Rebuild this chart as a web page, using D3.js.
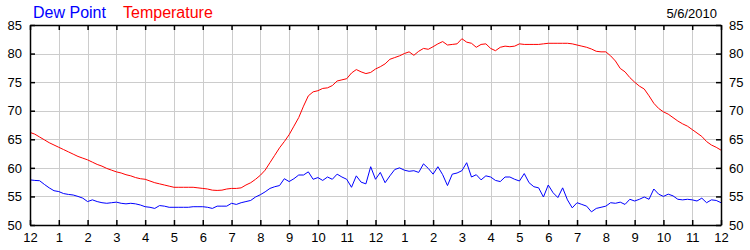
<!DOCTYPE html>
<html>
<head>
<meta charset="utf-8">
<script src="https://cdn.jsdelivr.net/npm/d3@7"></script>
<style>
  html, body { margin: 0; padding: 0; background: #fff; }
  svg { display: block; font-family: "Liberation Sans", Arial, sans-serif; }
</style>
</head>
<body>
<svg id="chart" width="750" height="250"></svg>
<script>
// ========= Data (10-minute readings, 12am to 12am) =========
const seriesNames = ["Dew Point", "Temperature"];
const seriesColors = ["#0000ff", "#ff0000"];
const dateLabel = "5/6/2010";

const hourLabels = ["12", "1", "2", "3", "4", "5", "6", "7", "8", "9", "10", "11",
                    "12", "1", "2", "3", "4", "5", "6", "7", "8", "9", "10", "11", "12"];
const yTicks = [50, 55, 60, 65, 70, 75, 80, 85];

const temperature = [
  66.2, 65.9, 65.4, 64.9, 64.4, 64.0, 63.6, 63.2, 62.8, 62.4, 62.0, 61.7,
  61.4, 61.0, 60.6, 60.3, 59.9, 59.6, 59.3, 59.1, 58.8, 58.6, 58.3, 58.1,
  58.0, 57.7, 57.4, 57.2, 57.0, 56.8, 56.6, 56.6, 56.6, 56.6, 56.6, 56.5,
  56.4, 56.3, 56.1, 56.05, 56.1, 56.3, 56.4, 56.4, 56.5, 57.0, 57.4, 58.0,
  58.7, 59.6, 60.9, 62.2, 63.5, 64.6, 65.8, 67.3, 68.8, 70.8, 72.6, 73.3,
  73.5, 73.9, 74.0, 74.4, 75.2, 75.4, 75.6, 76.6, 77.2, 76.8, 76.5, 76.7,
  77.3, 77.7, 78.2, 79.0, 79.3, 79.6, 80.0, 80.3, 79.7, 80.4, 80.9, 80.75,
  81.2, 81.7, 82.1, 81.5, 81.6, 81.7, 82.6, 82.0, 81.8, 81.1, 81.6, 81.7,
  80.9, 80.5, 81.1, 81.3, 81.2, 81.3, 81.7, 81.6, 81.6, 81.6, 81.6, 81.7,
  81.8, 81.8, 81.8, 81.8, 81.8, 81.7, 81.5, 81.3, 81.1, 80.8, 80.4, 80.3,
  80.3, 79.6, 78.7, 77.4, 76.8, 75.8, 75.0, 74.3, 73.8, 72.6, 71.3, 70.4,
  69.8, 69.4, 68.8, 68.2, 67.7, 67.3, 66.7, 66.1, 65.5, 64.6, 64.0, 63.6,
  63.1
];

const dewPoint = [
  57.9, 57.8, 57.75, 57.1, 56.5, 56.0, 55.85, 55.5, 55.35, 55.25, 55.0, 54.7,
  54.1, 54.4, 54.1, 53.9, 53.8, 53.9, 54.0, 53.8, 53.7, 53.8, 53.7, 53.5,
  53.2, 53.1, 52.9, 53.4, 53.3, 53.1, 53.1, 53.1, 53.1, 53.1, 53.2, 53.2,
  53.2, 53.1, 52.9, 53.3, 53.3, 53.3, 53.8, 53.6, 53.9, 54.1, 54.3, 54.9,
  55.3, 55.8, 56.4, 56.7, 56.9, 58.1, 57.6, 58.1, 58.75, 58.75, 59.3, 58.0,
  58.3, 57.8, 58.4, 58.0, 58.9, 58.4, 58.0, 56.6, 58.6, 57.5, 57.2, 60.2,
  58.0, 59.2, 57.4, 58.6, 59.7, 60.0, 59.6, 59.4, 59.5, 59.2, 60.7, 59.9,
  58.9, 60.2, 58.8, 56.9, 58.9, 59.1, 59.5, 60.9, 58.4, 58.8, 57.9, 58.6,
  58.4, 57.8, 57.6, 58.4, 58.4, 58.0, 57.7, 59.0, 57.4, 56.7, 56.5, 54.9,
  57.0, 55.65, 54.8, 56.5, 54.4, 53.0, 53.9, 53.6, 53.3, 52.3, 52.9, 53.1,
  53.3, 53.9, 53.8, 54.0, 53.6, 54.5, 54.2, 54.5, 54.9, 54.5, 56.3, 55.4,
  55.0, 55.4, 55.1, 54.5, 54.4, 54.5, 54.4, 54.2, 54.7, 53.9, 54.4, 54.3,
  53.9
];

// ========= Layout =========
const svg = d3.select("#chart");
const W = 750, H = 250;
const margin = { top: 25, right: 29, bottom: 25, left: 30 };
const innerW = W - margin.left - margin.right;
const innerH = H - margin.top - margin.bottom;

const x = d3.scaleLinear().domain([0, 24]).range([0, innerW]);
const y = d3.scaleLinear().domain([50, 85]).range([innerH, 0]);

const g = svg.append("g")
  .attr("transform", `translate(${margin.left},${margin.top})`);

const hours = d3.range(0, 25);

// Grid
g.append("g")
  .selectAll("line")
  .data(hours.slice(1, -1))
  .join("line")
  .attr("x1", d => Math.round(x(d)) + 0.5)
  .attr("x2", d => Math.round(x(d)) + 0.5)
  .attr("y1", 0)
  .attr("y2", innerH)
  .attr("stroke", "#cccccc");

g.append("g")
  .selectAll("line")
  .data(yTicks.slice(1, -1))
  .join("line")
  .attr("x1", 0)
  .attr("x2", innerW)
  .attr("y1", d => Math.round(y(d)) + 0.5)
  .attr("y2", d => Math.round(y(d)) + 0.5)
  .attr("stroke", "#cccccc");

// Lines
const line = d3.line()
  .x((d, i) => x(i / 6))
  .y(d => y(d));

[dewPoint, temperature].forEach((vals, k) => {
  g.append("path")
    .datum(vals)
    .attr("fill", "none")
    .attr("stroke", seriesColors[k])
    .attr("stroke-width", 1)
    .attr("d", line);
});

// Axes (ticks point inward)
function styleAxis(sel) {
  sel.select(".domain").attr("stroke", "#000").attr("stroke-width", 1.5);
  sel.selectAll(".tick line").attr("stroke", "#000").attr("stroke-width", 1.5);
  sel.selectAll(".tick text")
    .attr("fill", "#000")
    .attr("font-size", 13)
    .attr("font-family", "Liberation Sans, Arial, sans-serif");
}

g.append("g")
  .attr("transform", `translate(0,${innerH})`)
  .call(d3.axisBottom(x).tickValues(hours).tickFormat((d, i) => hourLabels[i])
    .tickSize(-5).tickPadding(8).tickSizeOuter(0))
  .call(styleAxis);

g.append("g")
  .call(d3.axisTop(x).tickValues(hours).tickFormat("")
    .tickSize(-5).tickSizeOuter(0))
  .call(styleAxis);

g.append("g")
  .call(d3.axisLeft(y).tickValues(yTicks).tickSize(-5).tickPadding(8).tickSizeOuter(0))
  .call(styleAxis);

g.append("g")
  .attr("transform", `translate(${innerW},0)`)
  .call(d3.axisRight(y).tickValues(yTicks).tickSize(-5).tickPadding(8).tickSizeOuter(0))
  .call(styleAxis);

// Legend + date
const legend = svg.append("g").attr("font-size", 16);
legend.append("text").attr("x", 33).attr("y", 18)
  .attr("fill", seriesColors[0]).text(seriesNames[0]);
legend.append("text").attr("x", 123).attr("y", 18)
  .attr("fill", seriesColors[1]).text(seriesNames[1]);

svg.append("text")
  .attr("x", 717).attr("y", 18)
  .attr("text-anchor", "end")
  .attr("font-size", 13)
  .attr("fill", "#000")
  .text(dateLabel);
</script>
</body>
</html>
